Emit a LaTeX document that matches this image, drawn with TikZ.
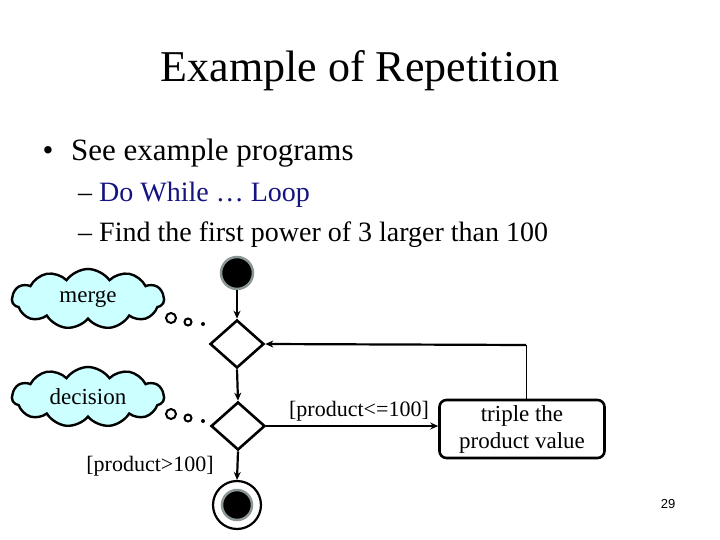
\documentclass[tikz,border=0pt]{standalone}
\usepackage{fontspec}
\setmainfont{Liberation Serif}
\setsansfont{Liberation Sans}
\usetikzlibrary{shapes.geometric,shapes.symbols,arrows.meta}
\definecolor{cloudfill}{RGB}{204,255,255}
\definecolor{navytext}{RGB}{20,20,128}
\definecolor{ringgray}{RGB}{140,150,150}
\tikzset{
  flow/.style={line width=2.2pt,-{Stealth[length=8pt,width=7pt]}},
  diam/.style={diamond,draw,line width=2.6pt,minimum width=54pt,minimum height=48pt,inner sep=0pt},
  cloudbox/.style={cloud,draw,line width=2.4pt,fill=cloudfill,cloud puffs=11,cloud puff arc=110,aspect=2.6,minimum width=152pt,minimum height=60pt,inner sep=0pt,font=\fontsize{23}{25}\selectfont},
  dotc/.style={circle,draw,line width=2pt,fill=white,inner sep=0pt},
  actbox/.style={draw,line width=2.6pt,rounded corners=7pt,minimum width=165pt,minimum height=58pt,align=center,inner sep=0pt,font=\fontsize{23}{27}\selectfont},
  lbl/.style={font=\fontsize{22}{24}\selectfont,inner sep=0pt,anchor=base}
}
\begin{document}
\begin{tikzpicture}[x=1pt,y=-1pt]
\useasboundingbox (0,0) rectangle (720,540);
% texts
\node[anchor=base,inner sep=0pt,font=\fontsize{44}{48}\selectfont] (title) at (360,82) {Example of Repetition};
\node[anchor=base,inner sep=0pt,font=\fontsize{31}{34}\selectfont] (bul) at (48,161) {\textbullet};
\node[anchor=base west,inner sep=0pt,font=\fontsize{31}{34}\selectfont] (see) at (71,161) {See example programs};
\node[anchor=base west,inner sep=0pt,font=\fontsize{28}{30}\selectfont] (sub1) at (78,202) {– \textcolor{navytext}{Do While … Loop}};
\node[anchor=base west,inner sep=0pt,font=\fontsize{28}{30}\selectfont] (sub2) at (78,241) {– Find the first power of 3 larger than 100};
% diagram
\node[circle,fill=black,draw=ringgray,line width=2.5pt,minimum size=32pt,inner sep=0pt] (start) at (237,273) {};
\node[diam] (merge) at (237,344) {};
\node[diam] (dec) at (238,426) {};
\node[circle,draw,line width=2.2pt,minimum size=48pt,inner sep=0pt] (fin) at (237,505) {};
\node[circle,fill=black,draw=ringgray,line width=2.5pt,minimum size=30pt,inner sep=0pt] (fininner) at (237,505) {};
\node[actbox] (act) at (522,429) {triple the\\product value};
\coordinate (corner) at (526,345);
\draw[flow] (start) -- (merge.north);
\draw[flow] (merge.south) -- (dec.north);
\draw[flow] (dec.south) -- (fin.north);
\draw[flow] (dec.east) -- (act.west |- dec.east);
\draw[line width=1pt] (corner |- act.north) -- (corner);
\draw[flow] (corner) -- (merge.east);
\node[lbl] (le) at (359,416) {[product<=100]};
\node[lbl] (gt) at (150,471) {[product>100]};
% clouds
\node[cloudbox] (c1) at (88,299) {merge};
\node[cloudbox] (c2) at (88,397) {decision};
\node[dotc,minimum size=10pt] (d1a) at (171,318) {};
\node[dotc,minimum size=7pt] (d1b) at (188,322) {};
\node[circle,fill=black,minimum size=4pt,inner sep=0pt] (d1c) at (203,324) {};
\node[dotc,minimum size=10pt] (d2a) at (171,414) {};
\node[dotc,minimum size=7pt] (d2b) at (188,418) {};
\node[circle,fill=black,minimum size=4pt,inner sep=0pt] (d2c) at (203,421) {};
\node[anchor=base,inner sep=0pt,font=\sffamily\fontsize{13}{14}\selectfont] (pg) at (668,508) {29};
\end{tikzpicture}
\end{document}
